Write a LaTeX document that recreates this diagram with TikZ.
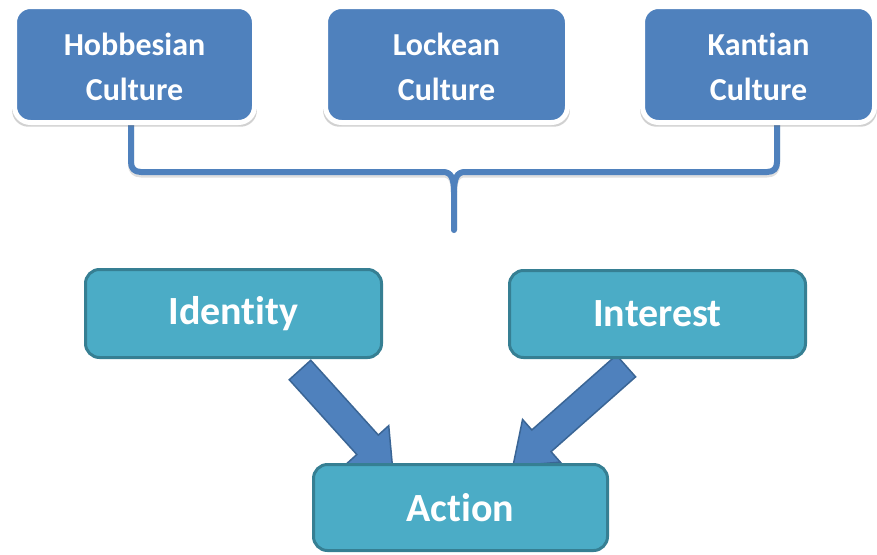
\documentclass[tikz,border=0pt]{standalone}
\usepackage{fontspec}
\setmainfont{Carlito}[Ligatures={NoCommon,NoContextual}]
\usetikzlibrary{shadows}
\definecolor{topblue}{HTML}{4F81BD}
\definecolor{aqua}{HTML}{4BACC6}
\definecolor{aquaedge}{HTML}{367F93}
\definecolor{arrowedge}{HTML}{3A6595}
\newcommand\myBracePath[1]{%
  \draw[#1] (bL) -- (131,162) .. controls (131,168) and (134,172) .. (141,172) -- (443,172)
     .. controls (451,172) and (454,178) .. (454,192) -- (bT);
  \draw[#1] (bR) -- (777,162) .. controls (777,168) and (774,172) .. (767,172) -- (465,172)
     .. controls (457,172) and (454,178) .. (454,192);
}
\newcommand\topstrut{\rule{0pt}{28pt}}
\begin{document}
\begin{tikzpicture}[x=1pt,y=-1pt,
  topbox/.style={rectangle, rounded corners=16pt, fill=topblue, draw=white, line width=5pt,
    inner sep=0pt, text=white, align=center, font=\fontsize{32}{45}\selectfont\bfseries,
    drop shadow={shadow xshift=0pt, shadow yshift=-3pt, shadow scale=1.02, opacity=0.3, fill=black!60}},
  lowbox/.style={rectangle, rounded corners=14pt, fill=aqua, draw=aquaedge, line width=3pt,
    inner sep=0pt, text=white, font=\fontsize{40}{48}\selectfont\bfseries},
  brace/.style={draw=topblue, line width=6pt, line cap=round, line join=round},
  braceshadow/.style={draw=black!50, line width=6pt, line cap=round, line join=round, opacity=0.25},
  blockarrow/.style={fill=topblue, draw=arrowedge, line width=1.5pt, line join=miter}]
\useasboundingbox (0,0) rectangle (877,554);

% block arrows (behind the boxes)
\coordinate (la) at (300,370);
\coordinate (ra) at (626,366);
\begin{scope}[shift={(la)}, rotate=-47.9]
  \draw[blockarrow] (0,-14.5) -- (100.8,-14.5) -- (100.8,-28.5) -- (138.8,0)
    -- (100.8,28.5) -- (100.8,14.5) -- (0,14.5) -- cycle;
\end{scope}
\begin{scope}[shift={(ra)}, rotate=-138.5]
  \draw[blockarrow] (0,-14.5) -- (112.9,-14.5) -- (112.9,-28.5) -- (150.9,0)
    -- (112.9,28.5) -- (112.9,14.5) -- (0,14.5) -- cycle;
\end{scope}

% brace
\coordinate (bL) at (131,118);
\coordinate (bR) at (777,118);
\coordinate (bT) at (454,230);
\begin{scope}[yshift=-2.5pt]
  \myBracePath{braceshadow}
\end{scope}
\myBracePath{brace}

% top boxes
\node[topbox, minimum width=240pt, minimum height=116pt] (hob) at (134.5,64.5) {\topstrut Hobbesian\\Culture};
\node[topbox, minimum width=242pt, minimum height=116pt] (loc) at (446.5,64.5) {\topstrut Lockean\\Culture};
\node[topbox, minimum width=232pt, minimum height=116pt] (kan) at (758.5,64.5) {\topstrut Kant\kern0pt ian\\Culture};

% lower boxes
\node[lowbox, minimum width=296pt, minimum height=88pt] (ide) at (233.5,313.5) {Ident\kern0pt ity};
\node[lowbox, minimum width=296pt, minimum height=87pt] (int) at (657.5,314) {Interest};
\node[lowbox, minimum width=294pt, minimum height=86pt] (act) at (460.5,507.5) {Act\kern0pt ion};
\end{tikzpicture}
\end{document}
